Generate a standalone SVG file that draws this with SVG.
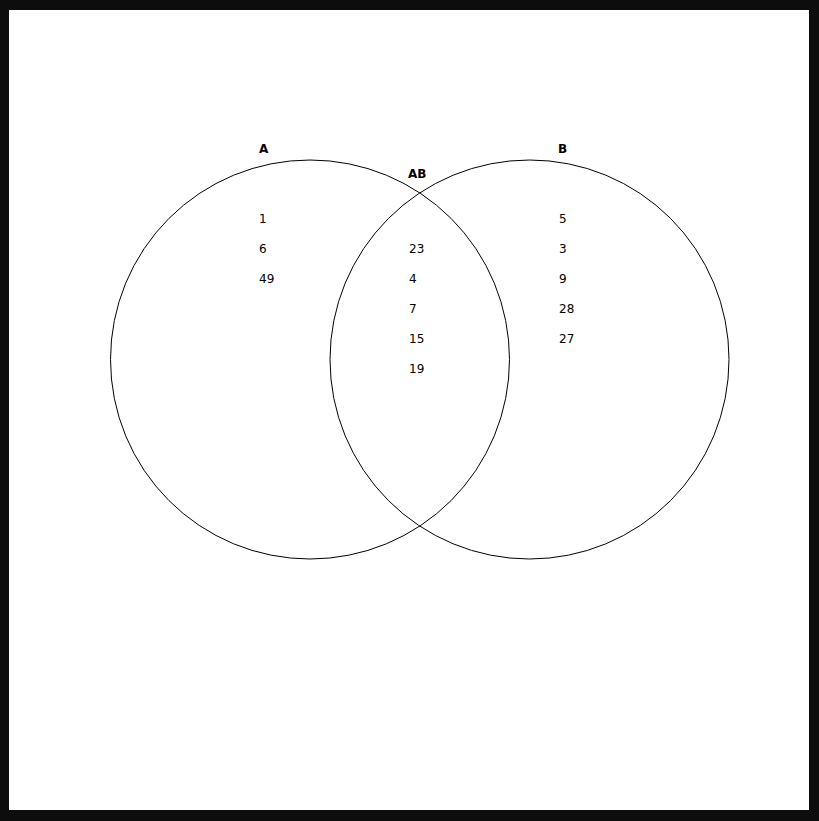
<svg xmlns="http://www.w3.org/2000/svg" width="819" height="821" viewBox="0 0 819 821">
<style>
.ring{fill:none;stroke:#000;stroke-width:1}
.lbl{font-family:"DejaVu Sans",sans-serif;font-size:12px;font-weight:bold;fill:#000}
.num{font-family:"DejaVu Sans",sans-serif;font-size:12px;fill:#000}
</style>
<rect x="0" y="0" width="819" height="821" fill="#0d0d0d"/>
<rect x="9" y="10" width="800" height="800" fill="#fff"/>
<g id="setA">
<circle class="ring" cx="310" cy="359.5" r="199.5"/>
<text class="lbl" x="259" y="153">A</text>
<text class="num" x="259" y="223">1</text>
<text class="num" x="259" y="253">6</text>
<text class="num" x="259" y="283">49</text>
</g>
<g id="setB">
<circle class="ring" cx="529.5" cy="359.5" r="199.5"/>
<text class="lbl" x="558" y="153">B</text>
<text class="num" x="559" y="223">5</text>
<text class="num" x="559" y="253">3</text>
<text class="num" x="559" y="283">9</text>
<text class="num" x="559" y="313">28</text>
<text class="num" x="559" y="343">27</text>
</g>
<g id="setAB">
<text class="lbl" x="408" y="178">AB</text>
<text class="num" x="409" y="253">23</text>
<text class="num" x="409" y="283">4</text>
<text class="num" x="409" y="313">7</text>
<text class="num" x="409" y="343">15</text>
<text class="num" x="409" y="373">19</text>
</g>
<g id="connectors"></g>
</svg>
